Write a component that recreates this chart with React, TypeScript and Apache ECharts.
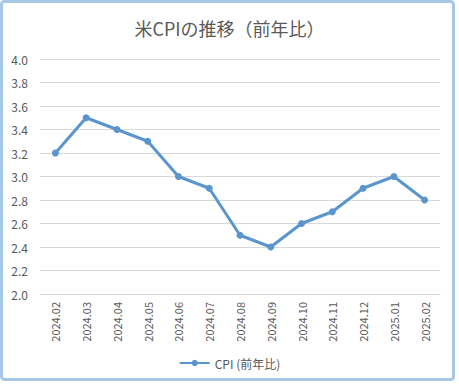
import React, { useEffect, useRef } from "react";
import * as echarts from "echarts";

const categories = ["2024.02","2024.03","2024.04","2024.05","2024.06","2024.07","2024.08","2024.09","2024.10","2024.11","2024.12","2025.01","2025.02"];
const cpiValues = [3.2, 3.5, 3.4, 3.3, 3.0, 2.9, 2.5, 2.4, 2.6, 2.7, 2.9, 3.0, 2.8];
const seriesName = "CPI (前年比)";
const titleText = "米CPIの推移（前年比）";

export default function App() {
  const ref = useRef<HTMLDivElement>(null);
  useEffect(() => {
    if (!ref.current) return;
    const chart = echarts.init(ref.current, null, { renderer: "svg" });
    const font = "'Noto Sans CJK JP', 'Noto Sans', sans-serif";
    chart.setOption({
      animation: false,
      backgroundColor: "#ffffff",
      textStyle: { fontFamily: font },
      title: {
        text: titleText,
        left: "center",
        top: 14,
        textStyle: { fontSize: 18, fontWeight: "normal", color: "#595959", fontFamily: font },
      },
      graphic: [
        {
          type: "rect",
          shape: { x: 1.5, y: 1.5, width: 452, height: 378, r: 3 },
          style: { fill: "none", stroke: "#A7C7E7", lineWidth: 3 },
          silent: true,
        },
      ],
      legend: {
        bottom: 10,
        left: "center",
        itemWidth: 30,
        itemHeight: 8,
        textStyle: { color: "#595959", fontSize: 12, fontFamily: font },
        data: [seriesName],
      },
      grid: { left: 40, right: 19, top: 59, bottom: 90 },
      xAxis: {
        type: "category",
        data: categories,
        axisLine: { lineStyle: { color: "#D9D9D9" } },
        axisTick: { lineStyle: { color: "#D9D9D9" }, length: 5 },
        axisLabel: { rotate: 90, color: "#595959", fontSize: 11, margin: 8, interval: 0 },
      },
      yAxis: {
        type: "value",
        min: 2.0,
        max: 4.0,
        interval: 0.2,
        axisLabel: { color: "#595959", fontSize: 12, margin: 12, formatter: (v: number) => v.toFixed(1) },
        splitLine: { lineStyle: { color: "#D9D9D9" } },
        axisLine: { show: false },
        axisTick: { show: false },
      },
      series: [
        {
          name: seriesName,
          type: "line",
          data: cpiValues,
          symbol: "circle",
          symbolSize: 7,
          lineStyle: { color: "#5B95CE", width: 3 },
          itemStyle: { color: "#5B95CE" },
        },
      ],
    });
    return () => chart.dispose();
  }, []);
  return <div ref={ref} style={{ position: "absolute", left: 0, top: 0, width: 459, height: 384 }} />;
}
